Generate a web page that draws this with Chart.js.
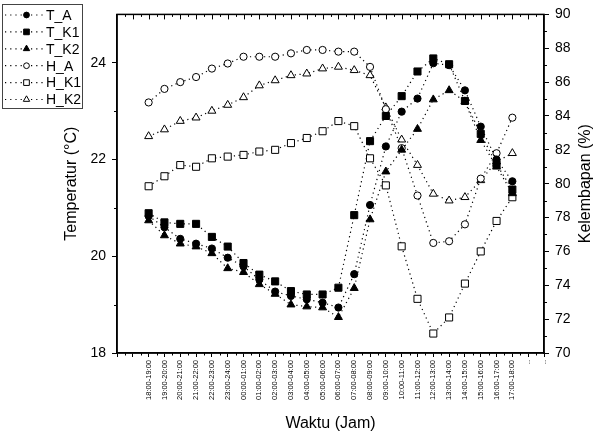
<!DOCTYPE html>
<html>
<head>
<meta charset="utf-8">
<script src="https://cdn.jsdelivr.net/npm/chart.js@4.4.0/dist/chart.umd.min.js"></script>
<style>
  html, body { margin: 0; padding: 0; background: #fff; }
</style>
</head>
<body>
<canvas id="chart" width="599" height="435"></canvas>
<script>
// data
const waktu = ['18:00-19:00','19:00-20:00','20:00-21:00','21:00-22:00','22:00-23:00','23:00-24:00',
  '00:00-01:00','01:00-02:00','02:00-03:00','03:00-04:00','04:00-05:00','05:00-06:00',
  '06:00-07:00','07:00-08:00','08:00-09:00','09:00-10:00','10:00-11:00','11:00-12:00',
  '12:00-13:00','13:00-14:00','14:00-15:00','15:00-16:00','16:00-17:00','17:00-18:00'];

const tA  = [20.83,20.60,20.36,20.26,20.16,19.97,19.79,19.52,19.27,19.18,19.11,19.04,18.94,19.63,21.06,22.27,22.99,23.26,23.99,23.95,23.43,22.68,22.00,21.55];
const tK1 = [20.89,20.70,20.67,20.67,20.40,20.20,19.86,19.62,19.48,19.28,19.21,19.21,19.35,20.85,22.38,22.90,23.31,23.82,24.09,23.97,23.21,22.53,21.90,21.38];
const tK2 = [20.74,20.43,20.26,20.20,20.06,19.75,19.67,19.42,19.22,19.00,18.96,18.94,18.74,19.34,20.76,21.75,22.20,22.63,23.24,23.43,23.20,22.40,21.85,21.30];

const hA  = [84.8,85.6,86.0,86.3,86.8,87.1,87.5,87.5,87.5,87.7,87.9,87.9,87.8,87.8,86.9,84.4,82.1,79.3,76.5,76.6,77.6,80.3,81.8,83.9];
const hK1 = [79.85,80.44,81.1,81.0,81.5,81.6,81.7,81.9,82.0,82.4,82.7,83.1,83.7,83.4,81.5,79.9,76.3,73.2,71.15,72.1,74.1,76.0,77.8,79.2];
const hK2 = [82.8,83.2,83.7,83.9,84.3,84.65,85.1,85.8,86.1,86.4,86.5,86.8,86.9,86.7,86.4,84.5,82.6,81.1,79.4,79.0,79.2,80.2,81.3,81.8];

const tempTicks = [18, 20, 22, 24];
const humTicks = [70, 72, 74, 76, 78, 80, 82, 84, 86, 88, 90];

const FONT = 'Arial, "Liberation Sans", sans-serif';
const X_OFFSET = 2;   // first category sits on tick 2 of a 0..27 axis

const pts = arr => arr.map((v, i) => ({ x: i + X_OFFSET, y: v }));

function series(label, arr, axis, style, filled, radius) {
  return {
    label, data: pts(arr), yAxisID: axis,
    borderColor: '#000', borderWidth: 1.2, borderDash: [1.2, 3.5],
    pointStyle: style, pointRadius: radius,
    pointBackgroundColor: filled ? '#000' : '#fff',
    pointBorderColor: '#000', pointBorderWidth: 1,
    fill: false, tension: 0
  };
}

const datasets = [
  series('T_A', tA, 'y', 'circle', true, 3.6),
  series('T_K1', tK1, 'y', 'rect', true, 5),
  series('T_K2', tK2, 'y', 'triangle', true, 4.6),
  series('H_A', hA, 'y1', 'circle', false, 3.6),
  series('H_K1', hK1, 'y1', 'rect', false, 5),
  series('H_K2', hK2, 'y1', 'triangle', false, 4.6)
];

// frame, minor ticks, top ticks, legend box and right title
const extras = {
  id: 'extras',
  afterDraw(chart) {
    const { ctx, chartArea: a, scales } = chart;
    const x = scales.x, yl = scales.y, yr = scales.y1;
    ctx.save();
    ctx.strokeStyle = '#000';
    ctx.lineWidth = 1.5;
    ctx.strokeRect(a.left, a.top, a.right - a.left, a.bottom - a.top);

    ctx.lineWidth = 1;
    ctx.beginPath();
    for (let v = 0.5; v < 27; v += 0.5) {
      const px = Math.round(x.getPixelForValue(v)) + 0.5;
      const major = v % 1 === 0;
      ctx.moveTo(px, a.top);
      ctx.lineTo(px, a.top + (major ? 5 : 2.5));
      if (!major) {
        ctx.moveTo(px, a.bottom);
        ctx.lineTo(px, a.bottom + 2.5);
      }
    }
    for (let v = 19; v < 25; v += 2) {
      const py = Math.round(yl.getPixelForValue(v)) + 0.5;
      ctx.moveTo(a.left, py);
      ctx.lineTo(a.left - 3, py);
    }
    for (let v = 71; v < 90; v += 2) {
      const py = Math.round(yr.getPixelForValue(v)) + 0.5;
      ctx.moveTo(a.right, py);
      ctx.lineTo(a.right + 3, py);
    }
    ctx.stroke();

    // legend
    ctx.lineWidth = 1;
    ctx.strokeStyle = '#444';
    ctx.strokeRect(2.5, 4.5, 80, 104);
    ctx.font = '14px ' + FONT;
    ctx.textBaseline = 'middle';
    ctx.textAlign = 'left';
    chart.data.datasets.forEach((ds, i) => {
      const ly = 15 + i * 16.9;
      ctx.save();
      ctx.strokeStyle = '#000';
      ctx.lineWidth = 1.2;
      ctx.setLineDash([1.2, 4]);
      ctx.beginPath();
      ctx.moveTo(5, ly);
      ctx.lineTo(45, ly);
      ctx.stroke();
      ctx.setLineDash([]);
      ctx.fillStyle = ds.pointBackgroundColor;
      ctx.strokeStyle = '#000';
      ctx.lineWidth = 1;
      Chart.helpers.drawPoint(ctx, {
        pointStyle: ds.pointStyle, radius: ds.pointRadius * 0.8, rotation: 0, borderWidth: 1
      }, 26.5, ly);
      ctx.restore();
      ctx.fillStyle = '#000';
      ctx.fillText(ds.label, 46, ly + 1);
    });

    // right axis title, reading bottom-to-top like the left one
    ctx.save();
    ctx.translate(586, (a.top + a.bottom) / 2);
    ctx.rotate(-Math.PI / 2);
    ctx.textAlign = 'center';
    ctx.font = '16px ' + FONT;
    ctx.fillStyle = '#000';
    ctx.fillText('Kelembapan (%)', 0, 0);
    ctx.restore();
    ctx.restore();
  }
};

new Chart(document.getElementById('chart'), {
  type: 'line',
  data: { datasets },
  plugins: [extras],
  options: {
    responsive: false,
    animation: false,
    devicePixelRatio: 1,
    layout: { padding: { left: 60, right: 0, top: 10, bottom: 0 } },
    plugins: { legend: { display: false }, tooltip: { enabled: false } },
    scales: {
      x: {
        type: 'linear', min: 0, max: 27,
        afterBuildTicks: s => {
          const t = [];
          for (let v = 0; v <= 27; v++) t.push({ value: v });
          s.ticks = t;
        },
        afterFit: s => { s.height = 82; },
        ticks: {
          autoSkip: false, maxRotation: 90, minRotation: 90, padding: 3, color: '#000',
          font: { size: 7.5, family: FONT },
          callback: v => {
            const i = v - X_OFFSET;
            if (i >= 0 && i < waktu.length) return waktu[i];
            return v > X_OFFSET ? '..' : '';
          }
        },
        grid: { drawOnChartArea: false, tickLength: 4, color: '#000', tickWidth: 1 },
        border: { color: '#000', width: 1.5 },
        title: { display: true, text: 'Waktu (Jam)', color: '#000', font: { size: 16, family: FONT }, padding: { top: 0, bottom: 2 } }
      },
      y: {
        position: 'left', min: 18, max: 25,
        afterBuildTicks: s => { s.ticks = tempTicks.map(v => ({ value: v })); },
        afterFit: s => { s.width = 57; },
        ticks: { color: '#000', padding: 6, font: { size: 14, family: FONT } },
        grid: { drawOnChartArea: false, tickLength: 5, color: '#000', tickWidth: 1 },
        border: { color: '#000', width: 1.5 },
        title: { display: true, text: 'Temperatur (°C)', color: '#000', font: { size: 16, family: FONT }, padding: { top: 2, bottom: 0 } }
      },
      y1: {
        position: 'right', min: 70, max: 90,
        afterBuildTicks: s => { s.ticks = humTicks.map(v => ({ value: v })); },
        afterFit: s => { s.width = 55; },
        ticks: { color: '#000', padding: 6, font: { size: 14, family: FONT } },
        grid: { drawOnChartArea: false, tickLength: 5, color: '#000', tickWidth: 1 },
        border: { color: '#000', width: 1.5 }
      }
    }
  }
});
</script>
</body>
</html>
